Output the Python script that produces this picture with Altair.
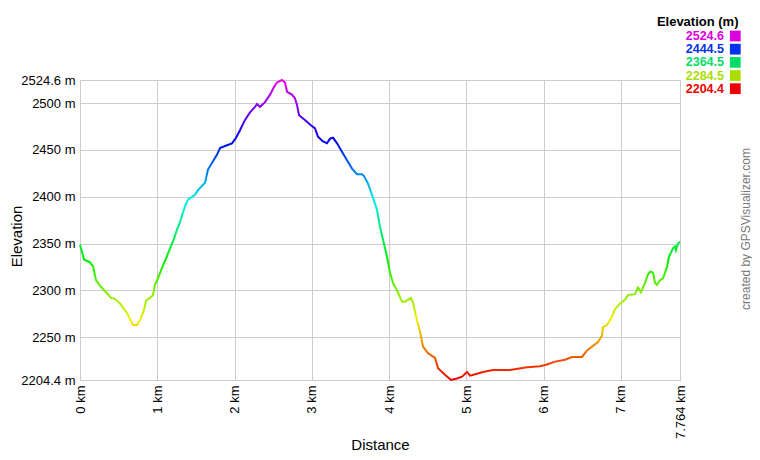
import altair as alt
import pandas as pd

# ---- data ----
distance_km = [0.000, 0.013, 0.052, 0.129, 0.168, 0.207, 0.259, 0.349, 0.401, 0.453,
               0.518, 0.608, 0.686, 0.738, 0.776, 0.828, 0.854, 0.906, 0.945, 0.970,
               1.009, 1.061, 1.113, 1.165, 1.216, 1.255, 1.294, 1.359, 1.398, 1.488,
               1.527, 1.618, 1.656, 1.708, 1.773, 1.812, 1.902, 1.967, 2.019, 2.070,
               2.135, 2.200, 2.265, 2.290, 2.329, 2.394, 2.459, 2.510, 2.549, 2.614,
               2.653, 2.679, 2.743, 2.782, 2.808, 2.834, 2.911, 2.976, 3.041, 3.080,
               3.144, 3.196, 3.235, 3.274, 3.326, 3.390, 3.455, 3.520, 3.584, 3.649,
               3.675, 3.727, 3.779, 3.843, 3.882, 3.921, 3.973, 4.011, 4.050, 4.102,
               4.167, 4.206, 4.283, 4.309, 4.361, 4.400, 4.438, 4.503, 4.594, 4.633,
               4.723, 4.801, 4.878, 4.943, 5.008, 5.047, 5.137, 5.215, 5.344, 5.564,
               5.784, 5.952, 6.043, 6.147, 6.276, 6.366, 6.496, 6.561, 6.625, 6.703,
               6.755, 6.768, 6.819, 6.884, 6.923, 6.988, 7.052, 7.091, 7.182, 7.221,
               7.259, 7.311, 7.350, 7.376, 7.415, 7.441, 7.466, 7.505, 7.544, 7.596,
               7.621, 7.673, 7.699, 7.712, 7.738, 7.764]
elevation_m = [2349, 2345, 2333, 2330, 2326, 2311, 2305, 2297, 2292, 2291,
               2286, 2276, 2263, 2263, 2268, 2279, 2289, 2292, 2295, 2306,
               2313, 2324, 2334, 2345, 2355, 2365, 2373, 2390, 2397, 2402,
               2407, 2415, 2429, 2436, 2445, 2452, 2455, 2457, 2463, 2471,
               2482, 2490, 2496, 2499, 2496, 2501, 2509, 2517, 2522, 2524.6,
               2522, 2512, 2509, 2505, 2498, 2487, 2482, 2477, 2473, 2464,
               2459, 2457, 2462, 2463, 2457, 2448, 2439, 2430, 2424, 2424,
               2422, 2414, 2402, 2386, 2368, 2354, 2336, 2319, 2308, 2300,
               2288, 2288, 2292, 2287, 2268, 2256, 2240, 2233, 2228, 2217,
               2210, 2204.4, 2206, 2208, 2213, 2209, 2211, 2213, 2215, 2215,
               2218, 2219, 2221, 2224, 2226, 2229, 2229, 2236, 2240, 2245,
               2252, 2261, 2263, 2272, 2280, 2286, 2290, 2295, 2296, 2303,
               2298, 2308, 2317, 2320, 2319, 2308, 2306, 2311, 2313, 2325,
               2336, 2345, 2347, 2343, 2350, 2352]

y_tick_values = [2204.4, 2250, 2300, 2350, 2400, 2450, 2500, 2524.6]
x_tick_values = [0, 1, 2, 3, 4, 5, 6, 7, 7.764]

legend_title = "Elevation (m)"
legend_labels = ["2524.6", "2444.5", "2364.5", "2284.5", "2204.4"]
legend_colors = ["#dd00dd", "#0033ee", "#00dd66", "#aadd00", "#ee0000"]

# hue ramp (red at min -> magenta at max)
ramp_colors = ["#ee0000", "#eeee00", "#00ee00", "#00eeee", "#0000ee", "#ee00ee"]
ramp_offsets = [0, 0.2, 0.4, 0.6, 0.8, 1.0]

credit_text = "created by GPSVisualizer.com"

FONT = "Liberation Sans"

df = pd.DataFrame({"km": distance_km, "elev": elevation_m})

gradient = alt.Gradient(
    gradient="linear",
    stops=[alt.GradientStop(color=c, offset=o) for c, o in zip(ramp_colors, ramp_offsets)],
    x1=0, x2=0, y1=1, y2=0,
)

line = alt.Chart(df).mark_line(stroke=gradient, strokeWidth=2).encode(
    x=alt.X(
        "km:Q",
        scale=alt.Scale(domain=[0, 7.764], nice=False, zero=False),
        axis=alt.Axis(
            values=x_tick_values, labelExpr="datum.value + ' km'", labelAngle=270,
            labelAlign="right", labelBaseline="middle",
            labelOverlap=False, labelFlush=False, labelPadding=5,
            ticks=False, tickSize=0, domain=False,
            grid=True, gridColor="#cccccc",
            labelFont=FONT, labelFontSize=13, labelColor="#000000",
            title="Distance", titleFont=FONT, titleFontSize=15, titleFontWeight="normal",
            titleColor="#000000", titleX=300, titleY=64, titleAlign="center",
            titleBaseline="middle",
        ),
    ),
    y=alt.Y(
        "elev:Q",
        scale=alt.Scale(domain=[2204.4, 2524.6], nice=False, zero=False),
        axis=alt.Axis(
            values=y_tick_values, labelExpr="datum.value + ' m'",
            labelOverlap=False, labelFlush=False, labelPadding=5,
            ticks=False, tickSize=0, domain=False,
            grid=True, gridColor="#cccccc",
            labelFont=FONT, labelFontSize=13, labelColor="#000000",
            title="Elevation", titleFont=FONT, titleFontSize=15, titleFontWeight="normal",
            titleColor="#000000", titleX=-64, titleY=156, titleAngle=270,
            titleAlign="center", titleBaseline="middle",
        ),
    ),
)

leg_df = pd.DataFrame({"label": legend_labels, "color": legend_colors})

leg_y = alt.Y("label:N", sort=legend_labels,
              scale=alt.Scale(range=[-44, 8.7], padding=0), axis=None)
leg_color = alt.Color("label:N", scale=alt.Scale(domain=legend_labels, range=legend_colors),
                      legend=None)

leg_text = alt.Chart(leg_df).mark_text(
    align="right", baseline="middle", font=FONT, fontSize=12.5, fontWeight="bold"
).encode(x=alt.value(644), y=leg_y, text="label:N", color=leg_color)

leg_sq = alt.Chart(leg_df).mark_square(size=116, filled=True, opacity=1).encode(
    x=alt.value(655.3), y=leg_y, color=leg_color
)

title_df = pd.DataFrame({"t": [legend_title]})
leg_title = alt.Chart(title_df).mark_text(
    align="right", baseline="middle", font=FONT, fontSize=13, fontWeight="bold",
    color="#000000"
).encode(x=alt.value(658.5), y=alt.value(-58.3), text="t:N")

credit_df = pd.DataFrame({"t": [credit_text]})
credit = alt.Chart(credit_df).mark_text(
    angle=270, align="center", baseline="middle", font=FONT, fontSize=12, color="#777777"
).encode(x=alt.value(665.5), y=alt.value(149), text="t:N")

chart = alt.layer(line, leg_sq, leg_text, leg_title, credit).resolve_scale(
    y="independent", color="independent"
).properties(
    width=600, height=300,
    padding={"left": 72, "top": 72, "right": 72, "bottom": 72},
    autosize=alt.AutoSizeParams(type="none"),
).configure_view(stroke="#cccccc", strokeWidth=1).configure(font=FONT)

chart.save("out.html", embed_options={"renderer": "svg", "actions": False})
